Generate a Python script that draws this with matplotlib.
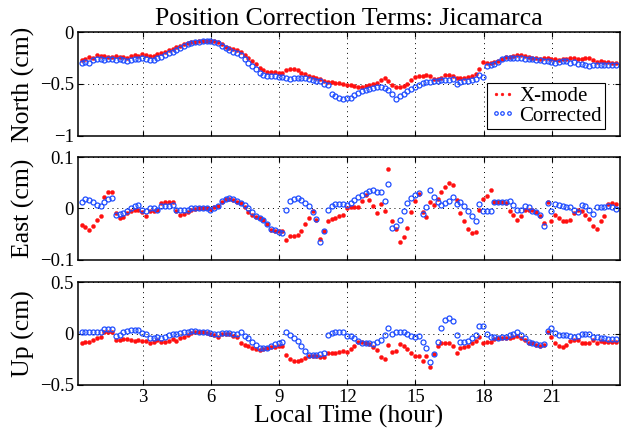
import numpy as np
import matplotlib
matplotlib.use('Agg')
import matplotlib.pyplot as plt

# Position correction terms, Jicamarca, 10-minute samples over the day

hour_start = 0.31   # first sample, local time (hour)
x_ticks = [3, 6, 9, 12, 15, 18, 21]

north_xmode = [
    -0.27, -0.26, -0.24, -0.25, -0.22, -0.23,
    -0.23, -0.24, -0.24, -0.23, -0.24, -0.24,
    -0.25, -0.23, -0.22, -0.23, -0.21, -0.22,
    -0.23, -0.23, -0.21, -0.20, -0.19, -0.17,
    -0.16, -0.14, -0.13, -0.12, -0.11, -0.10,
    -0.095, -0.09, -0.085, -0.083, -0.083, -0.09,
    -0.10, -0.12, -0.14, -0.15, -0.16, -0.17,
    -0.19, -0.22, -0.25, -0.28, -0.31, -0.35,
    -0.37, -0.38, -0.38, -0.38, -0.39, -0.39,
    -0.37, -0.36, -0.36, -0.37, -0.39, -0.40,
    -0.42, -0.43, -0.44, -0.45, -0.47, -0.48,
    -0.48, -0.49, -0.49, -0.50, -0.51, -0.51,
    -0.52, -0.53, -0.53, -0.52, -0.51, -0.50,
    -0.49, -0.46, -0.44, -0.47, -0.51, -0.53,
    -0.53, -0.52, -0.50, -0.46, -0.43, -0.42,
    -0.42, -0.41, -0.42, -0.45, -0.45, -0.44,
    -0.41, -0.41, -0.42, -0.44, -0.44, -0.44,
    -0.43, -0.42, -0.40, -0.36, -0.29, -0.30,
    -0.30, -0.29, -0.28, -0.26, -0.24, -0.24,
    -0.23, -0.22, -0.22, -0.23, -0.24, -0.25,
    -0.25, -0.26, -0.25, -0.25, -0.26, -0.26,
    -0.27, -0.26, -0.26, -0.25, -0.25, -0.26,
    -0.26, -0.25, -0.25, -0.27, -0.29, -0.28,
    -0.29, -0.29, -0.30, -0.30,
]
north_corr = [
    -0.30, -0.29, -0.30, -0.27, -0.26, -0.26,
    -0.27, -0.26, -0.26, -0.27, -0.26, -0.27,
    -0.28, -0.27, -0.26, -0.26, -0.25, -0.26,
    -0.27, -0.27, -0.25, -0.24, -0.22, -0.20,
    -0.19, -0.17, -0.15, -0.13, -0.12, -0.11,
    -0.10, -0.095, -0.09, -0.085, -0.09, -0.10,
    -0.11, -0.13, -0.15, -0.17, -0.19, -0.20,
    -0.22, -0.26, -0.30, -0.33, -0.36, -0.39,
    -0.41, -0.42, -0.42, -0.42, -0.43, -0.43,
    -0.44, -0.45, -0.44, -0.44, -0.44, -0.44,
    -0.45, -0.46, -0.47, -0.47, -0.50, -0.51,
    -0.60, -0.62, -0.63, -0.64, -0.63, -0.63,
    -0.61, -0.59, -0.57, -0.56, -0.55, -0.54,
    -0.53, -0.53, -0.54, -0.56, -0.60, -0.64,
    -0.62, -0.60, -0.57, -0.55, -0.53, -0.51,
    -0.49, -0.48, -0.48, -0.47, -0.47, -0.46,
    -0.46, -0.46, -0.45, -0.50, -0.48, -0.47,
    -0.47, -0.46, -0.45, -0.41, -0.43, -0.33,
    -0.32, -0.31, -0.29, -0.26, -0.25, -0.25,
    -0.25, -0.25, -0.25, -0.26, -0.26, -0.26,
    -0.27, -0.27, -0.28, -0.28, -0.29, -0.30,
    -0.29, -0.28, -0.28, -0.30, -0.29, -0.31,
    -0.31, -0.32, -0.33, -0.32, -0.32, -0.32,
    -0.32, -0.32, -0.32, -0.32,
]

east_xmode = [
    -0.032, -0.035, -0.042, -0.034, -0.022, -0.014,
    0.023, 0.033, 0.033, -0.009, -0.018, -0.017,
    -0.009, -0.005, -0.002, -0.002, -0.007, -0.015,
    -0.005, -0.004, -0.003, 0.010, 0.013, 0.013,
    0.013, -0.005, -0.013, -0.011, -0.006, -0.003,
    -0.001, 0.0, 0.0, 0.0, -0.001, 0.002,
    0.004, 0.012, 0.018, 0.018, 0.016, 0.013,
    0.010, 0.002, -0.006, -0.013, -0.016, -0.019,
    -0.022, -0.030, -0.042, -0.044, -0.044, -0.044,
    -0.061, -0.053, -0.053, -0.051, -0.043, -0.031,
    -0.019, -0.005, -0.022, -0.060, -0.044, -0.024,
    -0.021, -0.018, -0.015, -0.013, 0.0, 0.002,
    0.002, 0.002, 0.015, 0.026, 0.016, 0.004,
    -0.008, 0.009, -0.004, 0.076, -0.024, -0.040,
    -0.066, -0.056, -0.037, -0.006, 0.015, 0.029,
    -0.006, -0.016, 0.013, 0.007, 0.018, 0.033,
    0.042, 0.049, 0.046, 0.016, -0.009, -0.024,
    -0.040, -0.048, -0.046, -0.003, 0.018, 0.024,
    0.035, 0.013, 0.013, 0.013, 0.011, -0.004,
    -0.013, -0.022, -0.015, -0.003, -0.002, -0.002,
    -0.007, -0.015, -0.029, 0.013, -0.024, -0.013,
    -0.019, -0.024, -0.024, -0.022, -0.009, -0.003,
    -0.004, -0.013, -0.021, -0.034, -0.040, -0.024,
    -0.015, 0.009, 0.010, 0.008,
]
east_corr = [
    0.013, 0.018, 0.017, 0.012, 0.007, 0.004,
    0.013, 0.018, 0.021, -0.013, -0.011, -0.008,
    -0.004, 0.0, 0.005, 0.007, -0.002, -0.004,
    0.0, 0.0, -0.002, 0.004, 0.005, 0.005,
    0.007, -0.003, -0.003, -0.002, -0.002, 0.0,
    0.0, 0.0, 0.0, 0.0, -0.003, 0.0,
    0.004, 0.015, 0.018, 0.020, 0.018, 0.015,
    0.010, 0.007, 0.0, -0.006, -0.014, -0.019,
    -0.022, -0.030, -0.040, -0.042, -0.045, -0.047,
    -0.002, 0.015, 0.018, 0.020, 0.016, 0.011,
    0.004, -0.006, -0.021, -0.066, -0.044, -0.002,
    0.004, 0.008, 0.008, 0.008, 0.007, 0.011,
    0.016, 0.023, 0.027, 0.031, 0.034, 0.035,
    0.033, 0.033, 0.015, 0.047, -0.038, -0.034,
    -0.022, -0.004, 0.010, 0.020, 0.026, 0.031,
    -0.011, 0.002, 0.035, 0.023, 0.012, 0.007,
    0.010, 0.015, 0.022, 0.008, 0.013, 0.005,
    -0.005, -0.015, -0.024, 0.009, -0.004, -0.004,
    -0.004, 0.013, 0.013, 0.013, 0.013, 0.015,
    0.007, -0.003, -0.003, 0.004, 0.002, -0.005,
    -0.006, -0.013, -0.034, 0.011, -0.005, 0.009,
    0.007, 0.005, 0.002, 0.002, -0.003, -0.006,
    0.007, 0.005, -0.003, -0.011, 0.002, 0.002,
    0.002, 0.004, 0.002, -0.001,
]

up_xmode = [
    -0.089, -0.086, -0.086, -0.063, -0.047, -0.037,
    0.018, 0.018, 0.011, -0.063, -0.063, -0.057,
    -0.057, -0.063, -0.070, -0.063, -0.070, -0.070,
    -0.089, -0.079, -0.063, -0.086, -0.079, -0.073,
    -0.057, -0.073, -0.040, -0.031, -0.015, 0.002,
    0.011, 0.011, 0.011, 0.002, -0.008, -0.015,
    -0.031, -0.008, -0.008, -0.008, -0.021, -0.031,
    -0.095, -0.112, -0.121, -0.138, -0.150, -0.160,
    -0.150, -0.138, -0.128, -0.128, -0.121, -0.121,
    -0.209, -0.251, -0.264, -0.264, -0.257, -0.241,
    -0.218, -0.215, -0.215, -0.225, -0.225, -0.186,
    -0.186, -0.193, -0.176, -0.170, -0.176, -0.150,
    -0.118, -0.079, -0.086, -0.089, -0.105, -0.128,
    -0.160, -0.225, -0.248, -0.112, -0.183, -0.170,
    -0.105, -0.118, -0.150, -0.193, -0.215, -0.218,
    -0.267, -0.218, -0.322, -0.199, -0.118, -0.095,
    -0.089, -0.095, -0.118, -0.193, -0.138, -0.134,
    -0.121, -0.095, -0.070, -0.031, -0.095, -0.079,
    -0.079, -0.057, -0.047, -0.040, -0.040, -0.047,
    -0.037, -0.024, -0.040, -0.063, -0.089, -0.095,
    -0.112, -0.118, -0.112, 0.011, -0.031, -0.095,
    -0.118, -0.128, -0.112, -0.073, -0.063, -0.063,
    -0.095, -0.095, -0.095, -0.063, -0.095, -0.073,
    -0.079, -0.079, -0.086, -0.086,
]
up_corr = [
    0.011, 0.011, 0.011, 0.011, 0.011, 0.011,
    0.044, 0.044, 0.044, -0.024, -0.015, 0.011,
    0.024, 0.034, 0.034, 0.034, 0.002, -0.008,
    -0.047, -0.047, -0.037, -0.047, -0.031, -0.015,
    -0.008, -0.008, 0.002, 0.011, 0.018, 0.024,
    0.024, 0.018, 0.018, 0.011, 0.002, -0.005,
    -0.008, 0.002, 0.002, 0.002, -0.005, -0.008,
    0.011, -0.021, -0.047, -0.079, -0.112, -0.138,
    -0.144, -0.138, -0.121, -0.105, -0.095, -0.079,
    0.011, -0.015, -0.040, -0.073, -0.118, -0.170,
    -0.209, -0.209, -0.209, -0.202, -0.193, -0.015,
    0.008, 0.018, 0.018, 0.011, -0.021, -0.024,
    -0.047, -0.070, -0.089, -0.095, -0.095, -0.105,
    -0.079, -0.063, -0.015, 0.057, -0.008, 0.011,
    0.018, 0.011, -0.005, -0.021, -0.031, -0.024,
    -0.079, -0.138, -0.280, -0.199, -0.079, 0.057,
    0.131, 0.154, 0.125, -0.015, -0.086, -0.079,
    -0.070, -0.047, -0.015, 0.076, 0.073, -0.008,
    -0.031, -0.037, -0.040, -0.037, -0.031, -0.015,
    -0.005, 0.011, -0.015, -0.047, -0.079, -0.095,
    -0.105, -0.112, -0.105, 0.024, 0.057, 0.002,
    -0.015, -0.015, -0.015, -0.024, -0.031, -0.024,
    -0.005, -0.005, -0.005, -0.031, -0.031, -0.040,
    -0.047, -0.053, -0.057, -0.057,
]

hours = hour_start + np.arange(len(north_xmode)) / 6.0

plt.rcParams['font.family'] = ['Liberation Serif', 'DejaVu Serif']
plt.rcParams['axes.linewidth'] = 1.1

RED = '#ff1010'
BLUE = '#1f4dff'

fig = plt.figure(figsize=(6.22, 4.29), dpi=100)

# axes boxes in figure fraction (left, bottom, width, height)
ax_n = fig.add_axes([0.1254, 0.683, 0.8714, 0.2424])
ax_e = fig.add_axes([0.1254, 0.394, 0.8714, 0.2400])
ax_u = fig.add_axes([0.1254, 0.1026, 0.8714, 0.2400])

panels = [
    (ax_n, north_xmode, north_corr, 'North (cm)', (-1, 0), [-1, -0.5, 0], ['\u22121', '\u22120.5', '0']),
    (ax_e, east_xmode, east_corr, 'East (cm)', (-0.1, 0.1), [-0.1, 0, 0.1], ['\u22120.1', '0', '0.1']),
    (ax_u, up_xmode, up_corr, 'Up (cm)', (-0.5, 0.5), [-0.5, 0, 0.5], ['\u22120.5', '0', '0.5']),
]

for ax, xm, co, lab, ylim, yt, ytl in panels:
    ax.plot(hours, xm, 'o', color=RED, mfc=RED, mec=RED, ms=2.9, mew=0.3, label='X-mode')
    ax.plot(hours, co, 'o', color=BLUE, mfc='none', mec=BLUE, ms=3.6, mew=0.9, label='Corrected')
    ax.set_xlim(0.15, 24)
    ax.set_ylim(*ylim)
    ax.set_xticks(x_ticks)
    ax.set_yticks(yt)
    ax.set_yticklabels(ytl)
    # MATLAB-like sparse dotted grid
    ax.grid(True, linestyle=(0, (1, 4)), color='black', linewidth=0.7)
    ax.tick_params(direction='in', top=True, right=True, length=3.5, width=0.8, labelsize=13.5, pad=3)
    ax.set_ylabel(lab, fontsize=18.5)
    ax.yaxis.set_label_coords(-0.079, 0.5)
    if ax is not ax_u:
        ax.set_xticklabels([])

ax_u.set_xticklabels([str(t) for t in x_ticks])
ax_u.set_xlabel('Local Time (hour)', fontsize=18.5)
ax_u.xaxis.set_label_coords(0.5, -0.195)

ax_n.set_title('Position Correction Terms: Jicamarca', fontsize=18.5, pad=5)

leg = ax_n.legend(loc='lower right', bbox_to_anchor=(0.972, 0.07), borderaxespad=0,
                  numpoints=3, markerscale=0.7, handlelength=1.2, handletextpad=0.2,
                  borderpad=0.15, labelspacing=0.0, fontsize=15, fancybox=False, framealpha=1)
leg.get_frame().set_edgecolor('black')
leg.get_frame().set_linewidth(0.8)

fig.savefig('out.png', dpi=100)
